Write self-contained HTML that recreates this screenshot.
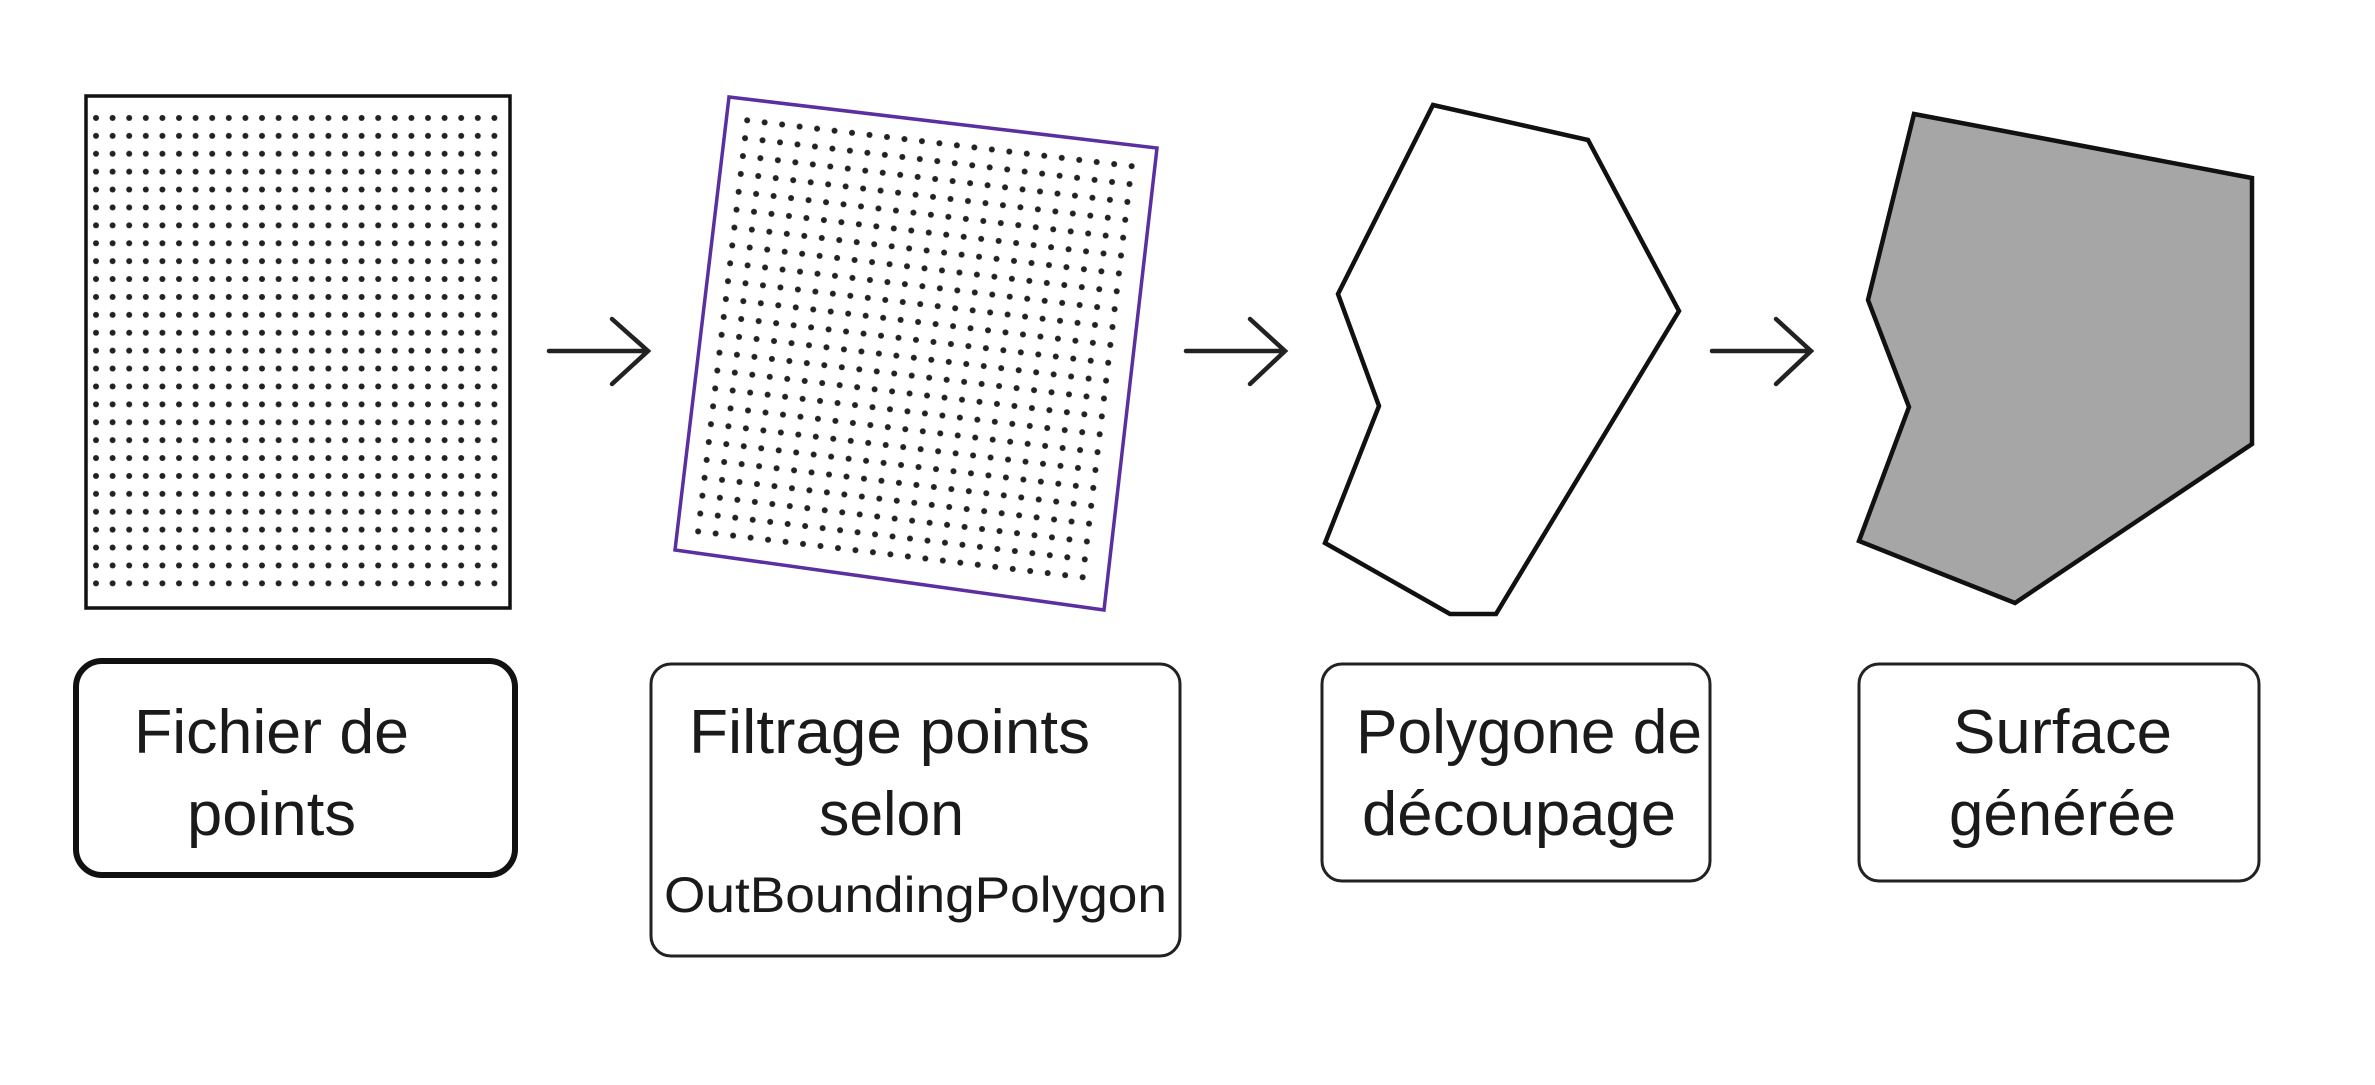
<!DOCTYPE html>
<html><head><meta charset="utf-8"><style>
html,body{margin:0;padding:0;background:#fff;}
svg{display:block;}
text{font-family:"Liberation Sans",sans-serif;fill:#1a1a1a;}
</style></head><body>
<svg width="2375" height="1085" viewBox="0 0 2375 1085" xmlns="http://www.w3.org/2000/svg">
<defs>
<pattern id="d1" patternUnits="userSpaceOnUse" x="87.7" y="109" width="16.6" height="17.9">
<circle cx="8.3" cy="8.95" r="3" fill="#222"/></pattern>
<pattern id="d2" patternUnits="userSpaceOnUse" x="12" y="12" width="17.6" height="18">
<circle cx="8.8" cy="9" r="3" fill="#222"/></pattern>
</defs>
<rect width="2375" height="1085" fill="#fff"/>
<rect x="86" y="96" width="424" height="512" fill="#fff" stroke="#111" stroke-width="3.5"/>
<rect x="88" y="109" width="416" height="484" fill="url(#d1)"/>
<polygon points="729,97 1157,148 1104,610 675,550" fill="#fff" stroke="#5b2fa0" stroke-width="3.5"/>
<g transform="translate(729,97) rotate(6.8)">
<rect x="12" y="12" width="406" height="432" fill="url(#d2)"/>
</g>
<g stroke="#222" stroke-width="4.5" fill="none" stroke-linecap="round">
<path d="M549,351 H648 M612,319 L648,351 L612,384"/>
<path d="M1186,351 H1285 M1250,319 L1285,351 L1250,384"/>
<path d="M1712,351 H1811 M1776,319 L1811,351 L1776,384"/>
</g>
<polygon points="1433,105 1588,140 1679,311 1496,614 1450,614 1325,543 1379,406 1338,294" fill="#fff" stroke="#111" stroke-width="4.5"/>
<polygon points="1914,114 2252,178 2252,444 2015,603 1859,541 1909,407 1868,300" fill="#a6a6a6" stroke="#111" stroke-width="4.5"/>
<rect x="76" y="661" width="439" height="214" rx="26" fill="#fff" stroke="#111" stroke-width="6"/>
<rect x="651" y="664" width="529" height="292" rx="20" fill="#fff" stroke="#222" stroke-width="3"/>
<rect x="1322" y="664" width="388" height="217" rx="20" fill="#fff" stroke="#222" stroke-width="3"/>
<rect x="1859" y="664" width="400" height="217" rx="20" fill="#fff" stroke="#222" stroke-width="3"/>
<text x="134" y="753" font-size="62" textLength="275" lengthAdjust="spacingAndGlyphs">Fichier de</text>
<text x="187" y="835" font-size="62" textLength="169" lengthAdjust="spacingAndGlyphs">points</text>
<text x="689" y="753" font-size="62" textLength="401" lengthAdjust="spacingAndGlyphs">Filtrage points</text>
<text x="819" y="835" font-size="62" textLength="145" lengthAdjust="spacingAndGlyphs">selon</text>
<text x="664" y="912" font-size="50" textLength="503" lengthAdjust="spacingAndGlyphs">OutBoundingPolygon</text>
<text x="1356" y="753" font-size="62" textLength="346" lengthAdjust="spacingAndGlyphs">Polygone de</text>
<text x="1362" y="835" font-size="62" textLength="314" lengthAdjust="spacingAndGlyphs">découpage</text>
<text x="1953" y="753" font-size="62" textLength="219" lengthAdjust="spacingAndGlyphs">Surface</text>
<text x="1949" y="835" font-size="62" textLength="227" lengthAdjust="spacingAndGlyphs">générée</text>
</svg>
</body></html>
